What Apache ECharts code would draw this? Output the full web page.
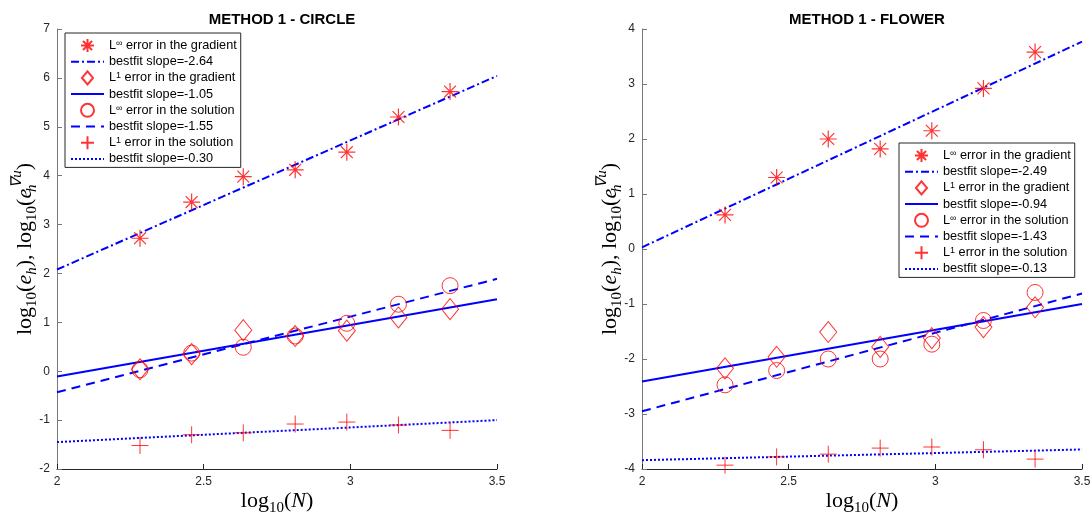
<!DOCTYPE html>
<html><head><meta charset="utf-8">
<script src="https://cdn.jsdelivr.net/npm/echarts@6/dist/echarts.min.js"></script>
<style>html,body{margin:0;padding:0;background:#fff}#c{width:1091px;height:514px}</style>
</head><body><div id="c"></div>
<script>
// ---- data ----
const logN = [2.283, 2.459, 2.635, 2.812, 2.988, 3.164, 3.340];
const xTicks = ['2', '2.5', '3', '3.5'];
const fitX = [2, 3.5];
// METHOD 1 - CIRCLE
const circleGradInf = [2.72, 3.46, 3.98, 4.12, 4.48, 5.20, 5.72];
const circleGradL1  = [0.04, 0.35, 0.84, 0.72, 0.83, 1.10, 1.27];
const circleSolInf  = [0.03, 0.37, 0.49, 0.72, 0.98, 1.37, 1.75];
const circleSolL1   = [-1.52, -1.30, -1.26, -1.08, -1.04, -1.10, -1.21];
const circleFitGradInf = [2.08, 6.04];
const circleFitGradL1  = [-0.11, 1.47];
const circleFitSolInf  = [-0.43, 1.89];
const circleFitSolL1   = [-1.45, -1.00];
const circleSlopes = ['-2.64', '-1.05', '-1.55', '-0.30'];
// METHOD 1 - FLOWER
const flowerGradInf = [0.62, 1.30, 2.00, 1.82, 2.15, 2.92, 3.58];
const flowerGradL1  = [-2.17, -1.96, -1.51, -1.78, -1.62, -1.42, -1.06];
const flowerSolInf  = [-2.47, -2.21, -2.00, -2.00, -1.73, -1.30, -0.79];
const flowerSolL1   = [-3.93, -3.78, -3.73, -3.62, -3.60, -3.65, -3.82];
const flowerFitGradInf = [0.03, 3.77];
const flowerFitGradL1  = [-2.41, -1.00];
const flowerFitSolInf  = [-2.95, -0.81];
const flowerFitSolL1   = [-3.84, -3.645];
const flowerSlopes = ['-2.49', '-0.94', '-1.43', '-0.13'];

const titles = ['METHOD 1 - CIRCLE', 'METHOD 1 - FLOWER'];
const markerNames = ['L∞ error in the gradient', 'L1 error in the gradient', 'L∞ error in the solution', 'L1 error in the solution'];

// ---- styling ----
const RED = '#ff0000', BLUE = '#0000ff';
const STAR = 'path://M0,-10L0,10M-10,0L10,0M-7,-7L7,7M-7,7L7,-7';
const PLUS = 'path://M0,-10L0,10M-10,0L10,0';
const DIAMOND = 'path://M0,-10L8,0L0,10L-8,0Z';
const markers = [
  {symbol: STAR, size: 17, bw: 1.2, keep: true},
  {symbol: DIAMOND, size: [17, 21], bw: 1, keep: false},
  {symbol: 'circle', size: 16, bw: 1, keep: true},
  {symbol: PLUS, size: 17, bw: 1, keep: true}
];
const lineTypes = [[8, 3, 2, 3], 'solid', [9, 6], [2, 2]];

const zip = (xs, ys) => xs.map((x, i) => [x, ys[i]]);

function buildSeries(gi, pts, fits, slopes) {
  const out = [];
  for (let k = 0; k < 4; k++) {
    out.push({
      type: 'scatter', name: markerNames[k] + (gi ? ' ' : ''),
      xAxisIndex: gi, yAxisIndex: gi,
      data: zip(logN, pts[k]),
      symbol: markers[k].symbol, symbolSize: markers[k].size, symbolKeepAspect: markers[k].keep,
      color: RED,
      itemStyle: {color: 'rgba(0,0,0,0)', borderColor: RED, borderWidth: markers[k].bw},
      emphasis: {disabled: true}, z: 3
    });
    out.push({
      type: 'line', name: 'bestfit slope=' + slopes[k],
      xAxisIndex: gi, yAxisIndex: gi,
      data: zip(fitX, fits[k]),
      symbol: 'none', color: BLUE,
      itemStyle: {color: 'rgba(0,0,0,0)', borderWidth: 0, opacity: 0},
      lineStyle: {color: BLUE, width: 2, type: lineTypes[k]},
      emphasis: {disabled: true}, z: 2
    });
  }
  return out;
}

const series = [].concat(
  buildSeries(0, [circleGradInf, circleGradL1, circleSolInf, circleSolL1],
                 [circleFitGradInf, circleFitGradL1, circleFitSolInf, circleFitSolL1], circleSlopes),
  buildSeries(1, [flowerGradInf, flowerGradL1, flowerSolInf, flowerSolL1],
                 [flowerFitGradInf, flowerFitGradL1, flowerFitSolInf, flowerFitSolL1], flowerSlopes)
);

const serif = 'Liberation Serif';
const sans = 'Liberation Sans';
const mathRich = {
  r: {fontFamily: serif, fontSize: 22, color: '#000', lineHeight: 30, verticalAlign: 'middle'},
  i: {fontFamily: serif, fontSize: 22, fontStyle: 'italic', color: '#000', lineHeight: 30, verticalAlign: 'middle'},
  s: {fontFamily: serif, fontSize: 15, color: '#000', lineHeight: 14, verticalAlign: 'bottom'},
  si: {fontFamily: serif, fontSize: 15, fontStyle: 'italic', color: '#000', lineHeight: 14, verticalAlign: 'bottom'},
  sh: {fontFamily: serif, fontSize: 15, fontStyle: 'italic', color: '#000', lineHeight: 14, verticalAlign: 'bottom', width: 1},
  sup: {fontFamily: serif, fontSize: 15, fontStyle: 'italic', color: '#000', lineHeight: 16, verticalAlign: 'top'}
};
const yName = '{r|log}{s|10}{r|(}{i|e}{si|h}{r|), log}{s|10}{r|(}{i|e}{sh|h}{sup|∇u}{r|)}';
const xName = '{r|log}{s|10}{r|(}{i|N}{r|)}';

function xAxis(gi) {
  return {
    type: 'value', gridIndex: gi, min: 2, max: 3.5, interval: 0.5,
    name: xName, nameLocation: 'middle', nameGap: 17, nameMoveOverlap: false,
    nameTextStyle: {rich: mathRich},
    axisLine: {onZero: false, lineStyle: {color: '#262626', width: 1}},
    axisTick: {inside: true, length: 5, lineStyle: {color: '#262626'}},
    axisLabel: {color: '#262626', fontFamily: sans, fontSize: 12, margin: 7,
      formatter: v => xTicks[Math.round((v - 2) / 0.5)] },
    splitLine: {show: false}
  };
}
function yAxis(gi, min, max) {
  return {
    type: 'value', gridIndex: gi, min: min, max: max, interval: 1,
    name: yName, nameLocation: 'middle', nameGap: 17, nameRotate: 90, nameMoveOverlap: false,
    nameTextStyle: {rich: mathRich},
    axisLine: {show: true, onZero: false, lineStyle: {color: '#777', width: 1}},
    axisTick: {show: true, inside: true, length: 5, lineStyle: {color: '#777'}},
    axisLabel: {color: '#262626', fontFamily: sans, fontSize: 12, margin: 7},
    splitLine: {show: false}
  };
}

function legend(gi, left, top, slopes) {
  const data = [];
  for (let k = 0; k < 4; k++) {
    data.push(k === 1 ? {name: markerNames[k] + (gi ? ' ' : ''), icon: 'path://M0,-10L8.5,0L0,10L-8.5,0Z'} : markerNames[k] + (gi ? ' ' : ''));
    data.push('bestfit slope=' + slopes[k]);
  }
  return {
    data: data, orient: 'vertical', left: left, top: top,
    itemWidth: 33, itemHeight: 13, itemGap: 2.2, itemTextGap: 5,
    padding: [5, 4, 2, 5], symbolKeepAspect: true,
    borderColor: '#262626', borderWidth: 1, backgroundColor: '#fff',
    selectedMode: false, z: 10,
    textStyle: {fontFamily: sans, fontSize: 12.7, color: '#000', lineHeight: 13,
      rich: {sup: {fontFamily: sans, fontSize: 9, color: '#000', lineHeight: 13, verticalAlign: 'top'}}},
    formatter: function (name) {
      const m = name.match(/^L(∞|1) (.*)$/);
      if (m) return 'L{sup|' + m[1] + '} ' + m[2].trim();
      return name;
    }
  };
}

const chart = echarts.init(document.getElementById('c'), null, {renderer: 'canvas'});
chart.setOption({
  animation: false,
  backgroundColor: '#fff',
  title: [
    {text: titles[0], left: 277, top: 7, textAlign: 'center',
     textStyle: {fontFamily: sans, fontSize: 15, fontWeight: 'bold', color: '#000'}},
    {text: titles[1], left: 862, top: 7, textAlign: 'center',
     textStyle: {fontFamily: sans, fontSize: 15, fontWeight: 'bold', color: '#000'}}
  ],
  grid: [
    {left: 57, right: 594, top: 29, bottom: 45, containLabel: false, outerBoundsMode: 'none'},
    {left: 642, right: 9, top: 29, bottom: 45, containLabel: false, outerBoundsMode: 'none'}
  ],
  xAxis: [xAxis(0), xAxis(1)],
  yAxis: [yAxis(0, -2, 7), yAxis(1, -4, 4)],
  legend: [legend(0, 65, 33, circleSlopes), legend(1, 899, 143, flowerSlopes)],
  series: series
});
</script></body></html>
